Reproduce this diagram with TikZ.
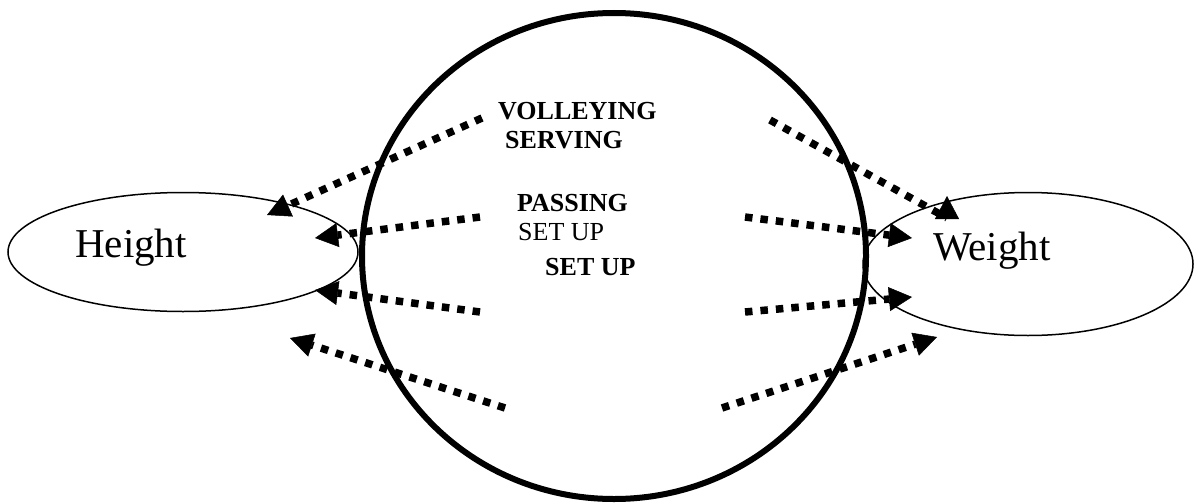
\documentclass[tikz,border=0pt]{standalone}
\usepackage{fontspec}
\setmainfont{Liberation Serif}
\usetikzlibrary{arrows.meta, shapes.geometric}
\tikzset{
    oval/.style={ellipse,draw,line width=1.5pt,inner sep=0pt},
    ring/.style={ellipse,draw,line width=6pt,inner sep=0pt},
    skill/.style={anchor=base west,inner sep=0pt,font=\bfseries\fontsize{26}{30}\selectfont},
    trait/.style={anchor=base west,inner sep=0pt,font=\fontsize{41}{48}\selectfont},
    sq/.style={draw,line width=7.5pt,dash pattern=on 7.5pt off 8pt,
        -{Triangle[length=23pt,width=24pt,line width=0.5pt]}},
    flow/.style={every edge/.style=sq},
}

\begin{document}
\begin{tikzpicture}[x=1pt,y=-1pt,flow]
\useasboundingbox (0,0) rectangle (1196,503);
% the court and the two body measures
\node[ring, minimum width=504pt, minimum height=486pt] (court) at (614,256) {};
\node[oval, minimum width=350pt, minimum height=119pt] (hgt) at (183,252) {};
\node[oval, minimum width=330pt, minimum height=143pt] (wgt) at (1028,264) {};
\node[trait] (hgtlbl) at (75,257) {Height};
\node[trait] (wgtlbl) at (933,260) {Weight};
% skills
\node[skill] (volley) at (498,119) {VOLLEYING};
\node[skill] (serve) at (505,148) {SERVING};
\node[skill] (pass) at (517,211) {PASSING};
\node[skill, font=\fontsize{26}{30}\selectfont] (setA) at (518,240) {SET UP};
\node[skill] (setB) at (545,275) {SET UP};
% arrow ends
\coordinate (l1) at (482,118); \coordinate (h1) at (267,215);
\coordinate (l2) at (480,217); \coordinate (h2) at (315,238);
\coordinate (l3) at (480,312); \coordinate (h3) at (315,290);
\coordinate (l4) at (505,408); \coordinate (h4) at (290,338);
\coordinate (r1) at (770,120); \coordinate (m1) at (947,218); \coordinate (w1) at (947,196);
\coordinate (r2) at (745,217); \coordinate (w2) at (912,238);
\coordinate (r3) at (745,312); \coordinate (w3) at (912,297);
\coordinate (r4) at (722,408); \coordinate (w4) at (937,337);
\path
    (l1) edge (h1)
    (l2) edge (h2)
    (l3) edge (h3)
    (l4) edge (h4)
    (r2) edge (w2)
    (r3) edge (w3)
    (r4) edge (w4)
;
\draw[sq] (r1) -- (m1) -- (w1);
\end{tikzpicture}
\end{document}
